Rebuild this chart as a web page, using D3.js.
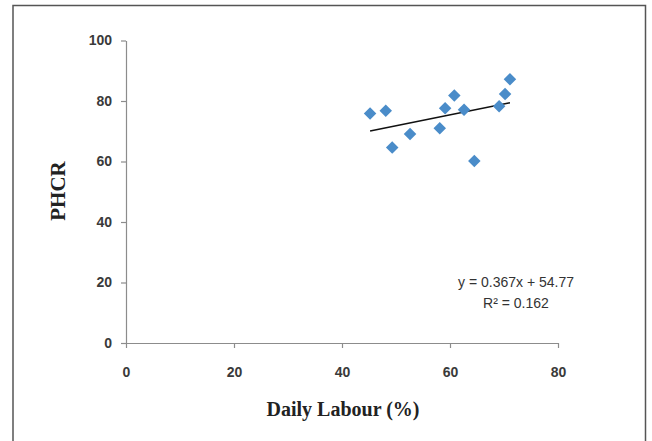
<!DOCTYPE html>
<html>
<head>
<meta charset="utf-8">
<script src="https://cdn.jsdelivr.net/npm/d3@7"></script>
<style>
  body { margin: 0; background: #fff; }
  .tick text { font-family: "Liberation Sans", Arial, sans-serif; font-weight: bold; font-size: 14px; fill: #3a3a3a; }
  .axis path, .axis line { stroke: #8c8c8c; stroke-width: 1.2; }
</style>
</head>
<body>
<div id="chart"></div>
<script>
// data
var labourPct = [45.2, 48.1, 52.6, 49.3, 58.1, 59.1, 60.8, 62.6, 69.1, 70.2, 71.1, 64.5];
var phcr      = [75.9, 76.8, 69.1, 64.6, 71.0, 77.6, 81.8, 77.1, 78.3, 82.3, 87.2, 60.2];
var xTicks = [0, 20, 40, 60, 80];
var yTicks = [0, 20, 40, 60, 80, 100];
var eqLines = ["y = 0.367x + 54.77", "R\u00B2 = 0.162"];

var W = 652, H = 441;
var margin = {top: 40.5, right: 94, bottom: 98, left: 126};
var width = W - margin.left - margin.right;
var height = H - margin.top - margin.bottom;

var root = d3.select('#chart').append('svg')
  .attr('width', W)
  .attr('height', H);

// outer frame
root.append('path')
  .attr('d', 'M13,' + H + 'V5.5H645.5V' + H)
  .attr('fill', 'none')
  .attr('stroke', '#555')
  .attr('stroke-width', 1.5);

var svg = root.append('g')
  .attr('transform', 'translate(' + margin.left + ',' + margin.top + ')');

// SCALES
var x = d3.scaleLinear().domain([0, 80]).range([0, width]);
var y = d3.scaleLinear().domain([0, 100]).range([height, 0]);

// AXES
svg.append('g')
  .attr('class', 'axis')
  .attr('transform', 'translate(0,' + height + ')')
  .call(d3.axisBottom(x).tickValues(xTicks).tickSizeInner(5).tickSizeOuter(0).tickPadding(16))
  .selectAll('text').attr('dy', '0.9em');

svg.append('g')
  .attr('class', 'axis')
  .call(d3.axisLeft(y).tickValues(yTicks).tickSizeInner(5).tickSizeOuter(0).tickPadding(9));

// trend line (least squares from the points)
var pts = labourPct.map(function (d, i) { return [d, phcr[i]]; });
var mx = d3.mean(labourPct), my = d3.mean(phcr);
var slope = d3.sum(pts, function (p) { return (p[0] - mx) * (p[1] - my); }) /
            d3.sum(pts, function (p) { return (p[0] - mx) * (p[0] - mx); });
var icpt = my - slope * mx;
var ext = d3.extent(labourPct);

svg.append('line')
  .attr('x1', x(ext[0])).attr('y1', y(slope * ext[0] + icpt))
  .attr('x2', x(ext[1])).attr('y2', y(slope * ext[1] + icpt))
  .attr('stroke', '#111')
  .attr('stroke-width', 1.5);

// POINTS
svg.selectAll('.pt').data(pts)
  .enter().append('path')
  .attr('class', 'pt')
  .attr('d', d3.symbol().type(d3.symbolDiamond2).size(100))
  .attr('transform', function (d) { return 'translate(' + x(d[0]) + ',' + y(d[1]) + ')'; })
  .attr('fill', '#4a8cc9');

// EQUATION
svg.append('g')
  .selectAll('text').data(eqLines)
  .enter().append('text')
  .attr('x', 390)
  .attr('y', function (d, i) { return 246 + i * 21; })
  .attr('text-anchor', 'middle')
  .style('font-family', '"Liberation Sans", Arial, sans-serif')
  .style('font-size', '14px')
  .style('fill', '#333')
  .text(function (d) { return d; });

// AXIS TITLES
root.append('text')
  .attr('x', 343)
  .attr('y', 416)
  .attr('text-anchor', 'middle')
  .style('font-family', '"Liberation Serif", "Times New Roman", serif')
  .style('font-weight', 'bold')
  .style('font-size', '20px')
  .style('fill', '#222')
  .text('Daily Labour (%)');

root.append('text')
  .attr('transform', 'translate(65,191) rotate(-90)')
  .attr('text-anchor', 'middle')
  .style('font-family', '"Liberation Serif", "Times New Roman", serif')
  .style('font-weight', 'bold')
  .style('font-size', '21px')
  .style('fill', '#222')
  .text('PHCR');
</script>
</body>
</html>
